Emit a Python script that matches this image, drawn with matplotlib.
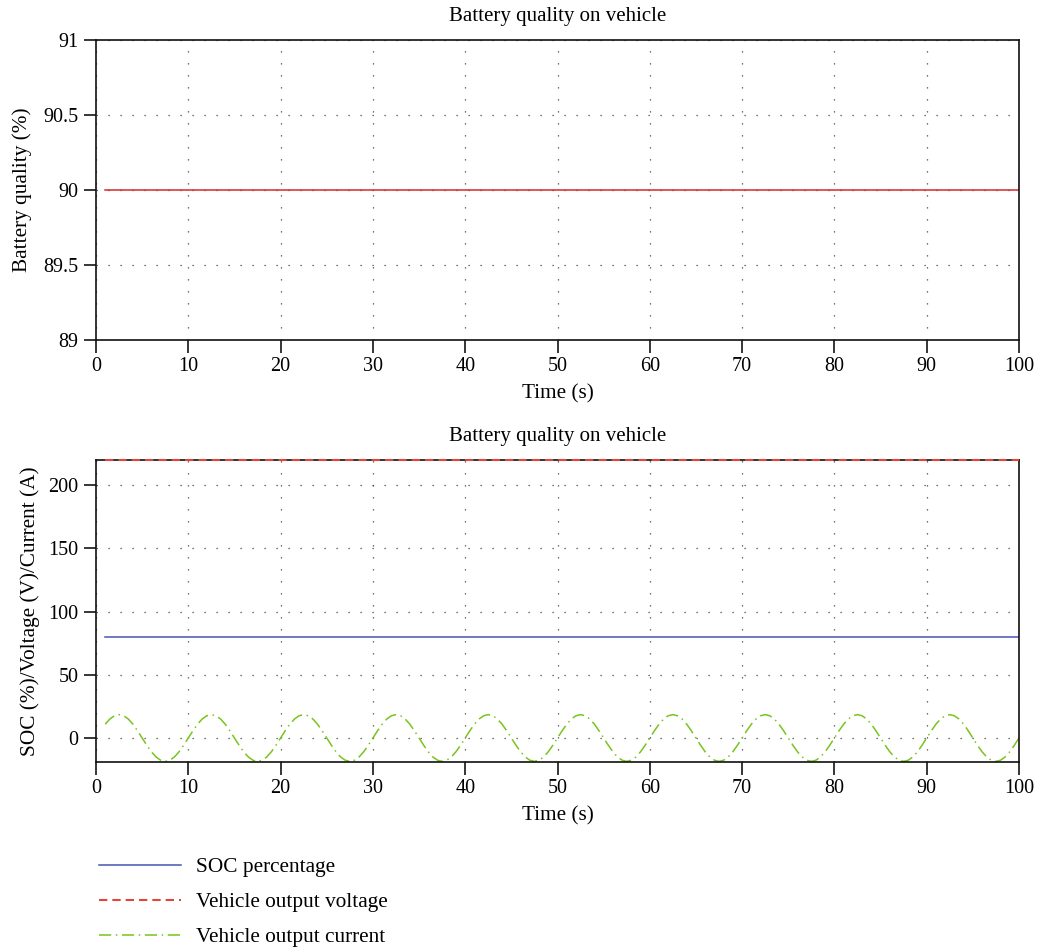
import numpy as np
import matplotlib
matplotlib.use("Agg")
import matplotlib.pyplot as plt
from matplotlib.ticker import FormatStrFormatter

plt.rcParams['font.family'] = ['Liberation Serif', 'DejaVu Serif']

# ---- data ----
title = "Battery quality on vehicle"
time_q = [1, 100]
quality = [90, 90]
time_s = [1, 100]
soc = [80, 80]
voltage = [220, 220]
current = [10.9, 15.0, 17.6, 18.5, 17.6, 15.0, 10.9, 5.7,
           0.0, -5.7, -10.9, -15.0, -17.6, -18.5, -17.6, -15.0, -10.9, -5.7,
           0.0, 5.7, 10.9, 15.0, 17.6, 18.5, 17.6, 15.0, 10.9, 5.7,
           0.0, -5.7, -10.9, -15.0, -17.6, -18.5, -17.6, -15.0, -10.9, -5.7,
           0.0, 5.7, 10.9, 15.0, 17.6, 18.5, 17.6, 15.0, 10.9, 5.7,
           0.0, -5.7, -10.9, -15.0, -17.6, -18.5, -17.6, -15.0, -10.9, -5.7,
           0.0, 5.7, 10.9, 15.0, 17.6, 18.5, 17.6, 15.0, 10.9, 5.7,
           0.0, -5.7, -10.9, -15.0, -17.6, -18.5, -17.6, -15.0, -10.9, -5.7,
           0.0, 5.7, 10.9, 15.0, 17.6, 18.5, 17.6, 15.0, 10.9, 5.7,
           0.0, -5.7, -10.9, -15.0, -17.6, -18.5, -17.6, -15.0, -10.9, -5.7,
           0.0, 5.7, 10.9, 15.0, 17.6, 18.5, 17.6, 15.0, 10.9, 5.7,
           0.0, -5.7, -10.9, -15.0, -17.6, -18.5, -17.6, -15.0, -10.9, -5.7,
           0.0, 5.7, 10.9, 15.0, 17.6, 18.5, 17.6, 15.0, 10.9, 5.7,
           0.0, -5.7, -10.9, -15.0, -17.6, -18.5, -17.6, -15.0, -10.9, -5.7,
           0.0, 5.7, 10.9, 15.0, 17.6, 18.5, 17.6, 15.0, 10.9, 5.7,
           0.0, -5.7, -10.9, -15.0, -17.6, -18.5, -17.6, -15.0, -10.9, -5.7,
           0.0, 5.7, 10.9, 15.0, 17.6, 18.5, 17.6, 15.0, 10.9, 5.7,
           0.0, -5.7, -10.9, -15.0, -17.6, -18.5, -17.6, -15.0, -10.9, -5.7,
           0.0, 5.7, 10.9, 15.0, 17.6, 18.5, 17.6, 15.0, 10.9, 5.7,
           0.0, -5.7, -10.9, -15.0, -17.6, -18.5, -17.6, -15.0, -10.9, -5.7,
           0.0]
time_c = np.linspace(1, 100, len(current))
x_ticks = [0, 10, 20, 30, 40, 50, 60, 70, 80, 90, 100]
q_ticks = [89, 89.5, 90, 90.5, 91]
s_ticks = [0, 50, 100, 150, 200]
labels = ["SOC percentage", "Vehicle output voltage", "Vehicle output current"]

fig = plt.figure(figsize=(10.37, 9.47), dpi=100)
ax1 = fig.add_axes([96/1037, 1-340/947, 923/1037, 300/947])
ax2 = fig.add_axes([96/1037, 1-762/947, 923/1037, 302/947])

grid_kw = dict(color='#444444', linestyle=(0, (1, 8.6)), linewidth=0.9)
fs_tick = 14.5
fs_lab = 15.3

for ax in (ax1, ax2):
    ax.set_xlim(0, 100)
    ax.set_xticks(x_ticks)
    ax.grid(True, **grid_kw)
    ax.set_axisbelow(True)
    ax.tick_params(direction='out', length=9, width=1.1, labelsize=fs_tick, top=False, right=False)
    for s in ax.spines.values():
        s.set_linewidth(1.2)
        s.set_color('#111111')
    ax.set_title(title, fontsize=15, pad=14)
    ax.set_xlabel("Time (s)", fontsize=fs_lab, labelpad=6)

ax1.plot(time_q, quality, color='#d42a2a', linewidth=1.1)
ax1.set_ylim(89, 91)
ax1.set_yticks(q_ticks)
ax1.yaxis.set_major_formatter(FormatStrFormatter('%g'))
ax1.set_ylabel("Battery quality (%)", fontsize=fs_lab, labelpad=8)

l1, = ax2.plot(time_s, soc, color='#4655b0', linewidth=1.1)
l2, = ax2.plot(time_s, voltage, color='#e0463c', linewidth=1.5, linestyle=(0, (4.0, 2.4)),
               clip_on=False, zorder=3)
l3, = ax2.plot(time_c, current, color='#78c41e', linewidth=1.1, linestyle=(0, (8, 3, 1, 3)))
ax2.set_ylim(-19, 220)
ax2.set_yticks(s_ticks)
ax2.set_ylabel("SOC (%)/Voltage (V)/Current (A)", fontsize=fs_lab, labelpad=6)

fig.legend([l1, l2, l3], labels, loc='upper left', bbox_to_anchor=(80/1037, 1-838/947),
           frameon=False, fontsize=fs_lab, handlelength=3.85, handletextpad=0.7, labelspacing=0.72)

fig.savefig("out.png", dpi=100)
